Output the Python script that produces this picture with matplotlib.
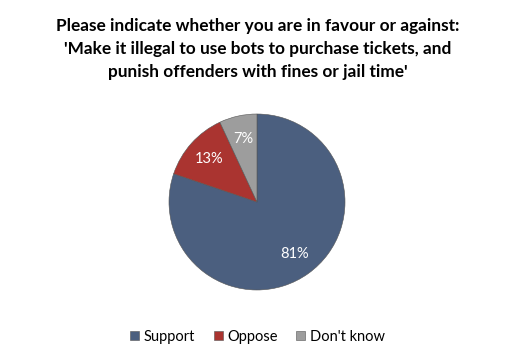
import numpy as np
import matplotlib.pyplot as plt

labels = ["Support", "Oppose", "Don't know"]
values = [81, 13, 7]
colors = ["#4b5f7f", "#aa3430", "#9d9d9d"]

plt.rcParams['font.family'] = ['Lato', 'DejaVu Sans']

W, H = 515, 362
fig = plt.figure(figsize=(W / 100, H / 100), dpi=100)
fig.patch.set_facecolor("white")

fig.text(0.5, 1 - 44 / H,
         "Please indicate whether you are in favour or against:\n"
         "'Make it illegal to use bots to purchase tickets, and\n"
         "punish offenders with fines or jail time'",
         ha="center", va="center_baseline", fontsize=12.4, fontweight="bold",
         linespacing=1.55)

# pie placed by pixel centre / radius
cx, cy, r = 257, 202, 88
ax = fig.add_axes([(cx - r) / W, (H - cy - r) / H, 2 * r / W, 2 * r / H])
wedges, texts = ax.pie(values, colors=colors, startangle=90, counterclock=False,
                       wedgeprops=dict(edgecolor="#555555", linewidth=0.4))
for w, v in zip(wedges, values):
    ang = np.deg2rad((w.theta1 + w.theta2) / 2)
    ax.text(0.73 * np.cos(ang), 0.73 * np.sin(ang), "%d%%" % v,
            ha="center", va="center", color="white", fontsize=10.5)
ax.set_xlim(-1, 1)
ax.set_ylim(-1, 1)
ax.set_aspect("equal")

fig.legend(wedges, labels, loc="center", bbox_to_anchor=(0.5, 1 - 337 / H), ncol=3,
           frameon=False, fontsize=10.5, handlelength=0.6, handleheight=0.6,
           handletextpad=0.3, columnspacing=1.3)

fig.savefig("out.png", dpi=100, facecolor="white")
